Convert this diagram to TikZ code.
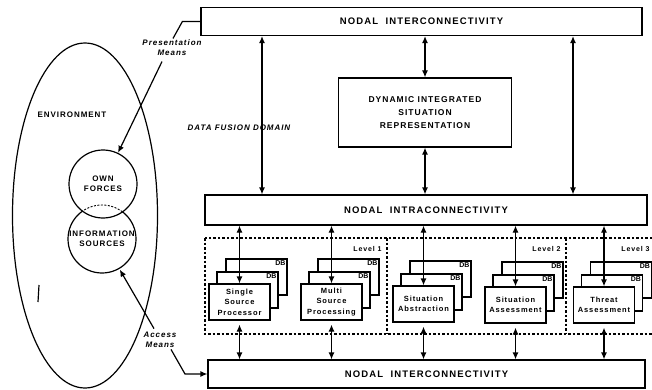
\documentclass[tikz,border=0pt]{standalone}
\usepackage{fontspec}
\setmainfont{Liberation Sans}
\newfontfamily\wide[LetterSpace=12]{Liberation Sans}
\usetikzlibrary{arrows.meta,shapes.geometric}

\tikzset{
  bar/.style={draw,line width=1.2pt,minimum height=28,inner sep=1pt,align=center,
    font=\wide\bfseries\fontsize{9.5}{13}\selectfont},
  capsf/.style={font=\wide\bfseries\fontsize{8}{10}\selectfont,align=center,inner sep=1pt},
  circ/.style={circle,draw,line width=1.2pt,minimum size=68,inner sep=0pt,capsf},
  lblit/.style={font=\wide\bfseries\itshape\fontsize{8}{10}\selectfont,align=center,inner sep=1pt},
  proc/.style={draw,line width=1.2pt,fill=white,minimum width=61,minimum height=36,inner sep=1pt,
    align=center,font=\wide\bfseries\fontsize{7.5}{10.5}\selectfont},
  card/.style={draw,line width=1.2pt,fill=white,minimum width=61,minimum height=36},
  dbtag/.style={anchor=north east,inner sep=1.5pt,font=\bfseries\fontsize{7}{7}\selectfont},
  lvl/.style={line width=1.4pt,dash pattern=on 2.5pt off 2pt},
  lvltxt/.style={anchor=east,inner sep=1pt,font=\wide\bfseries\fontsize{7}{8}\selectfont},
  dbl/.style={{Latex[length=7pt,width=6pt]}-{Latex[length=7pt,width=6pt]},line width=1.2pt},
  onearr/.style={-{Latex[length=7pt,width=6pt]},line width=1.2pt}
}

\begin{document}
\begin{tikzpicture}[x=1pt,y=-1pt,line width=1.2pt]
\useasboundingbox (0,0) rectangle (652,390);
\clip (0,0) rectangle (652,390);

% environment
\node[draw,ellipse,minimum width=145,minimum height=345,line width=1.2pt] (env) at (85,215.5) {};
\node[capsf] (envtxt) at (72,115) {ENVIRONMENT};
\node[circ] (own) at (103,184) {OWN\\FORCES};
\node[circ,draw=none] (info) at (102,239) {INFORMATION\\SOURCES};
% lower circle: dashed where it lies inside the upper one
\begin{scope}
  \clip (103,184) circle [radius=34pt];
  \draw[dash pattern=on 2pt off 1.5pt,line width=0.9pt] (102,239) circle [radius=34pt];
\end{scope}
\begin{scope}[even odd rule]
  \clip (0,0) rectangle (652,390) (103,184) circle [radius=34pt];
  \draw (102,239) circle [radius=34pt];
\end{scope}
\draw (39,285) -- (38,302);

% nodal bars and situation representation
\node[bar,minimum width=441] (top) at (421.5,21.5) {NODAL\ \ INTERCONNECTIVITY};
\node[bar,minimum width=442,minimum height=30] (intra) at (426,210) {NODAL\ \ INTRACONNECTIVITY};
\node[bar,minimum width=437] (bot) at (426.5,374) {NODAL\ \ INTERCONNECTIVITY};
\node[bar,minimum width=173,minimum height=69,font=\wide\bfseries\fontsize{8.5}{13}\selectfont] (disr) at (425,112.5) {DYNAMIC INTEGRATED\\SITUATION\\REPRESENTATION};
\node[lblit] (dfd) at (239,128) {DATA FUSION DOMAIN};

% means
\node[lblit] (pres) at (172,48) {Presentation\\Means};
\draw (top.west) -- ++(-18,0) -- ([xshift=1pt]pres.north);
\draw[onearr] ([shift={(-10pt,-4pt)}]pres.south) -- (own);
\node[lblit] (acc) at (160,340) {Access\\Means};
\draw[onearr] ([shift={(-6pt,2pt)}]acc.north) -- (info);
\draw[onearr] ([xshift=11pt]acc.south) -- (185,0 |- bot.west) -- (bot.west);

\draw[dbl] (262,0 |- top.south) -- (262,0 |- intra.north);
\draw[dbl] (top.south -| disr.north) -- (disr.north);
\draw[dbl] (disr.south) -- (disr.south |- intra.north);
\draw[dbl] (573,0 |- top.south) -- (573,0 |- intra.north);

% levels
\draw[lvl] (205,238) rectangle (670,334);
\draw[lvl] (387,238) -- (387,334);
\draw[lvl] (566,238) -- (566,334);
\node[lvltxt] (lv1) at (383,249) {Level 1};
\node[lvltxt] (lv2) at (562,249) {Level 2};
\node[lvltxt] (lv3) at (651,249) {Level 3};

\foreach \nm/\x/\y/\txt in {ssp/239.5/302/{Single\\Source\\Processor},
    msp/331.5/302/{Multi\\Source\\Processing},
    sab/423.5/304/{Situation\\Abstraction},
    sas/515.5/305/{Situation\\Assessment},
    tas/604/305/{Threat\\Assessment}}{
  \node[card] (\nm-c2) at (\x+17,\y-25) {};
  \node[dbtag] (\nm-db2) at (\nm-c2.north east) {DB};
  \node[card] (\nm-c1) at (\x+8,\y-12) {};
  \node[dbtag] (\nm-db1) at (\nm-c1.north east) {DB};
  \node[proc] (\nm) at (\x,\y) {\txt};
  \draw[dbl] (intra.south -| \nm.north) -- (\nm.north);
  \draw[dbl,shorten <=4pt] (\nm.south) -- (bot.north -| \nm.south);
}
\end{tikzpicture}
\end{document}
